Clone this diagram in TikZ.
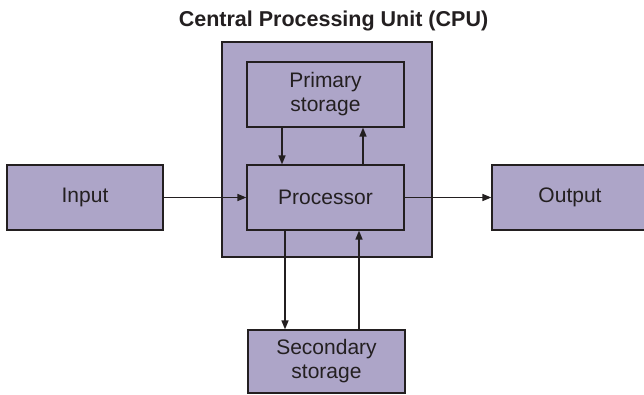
\documentclass[tikz,border=0pt]{standalone}
\usepackage{fontspec}
\setmainfont{Liberation Sans}
\usetikzlibrary{arrows.meta}
\definecolor{boxfill}{RGB}{173,165,200}
\definecolor{ink}{RGB}{35,31,32}
\tikzset{
  blk/.style={draw=ink, line width=1.2pt, fill=boxfill, rectangle, inner sep=0pt,
    align=center, font=\fontsize{21}{24}\selectfont, text=ink},
  conn/.style={draw=ink, line width=1.5pt, -{Triangle[length=9pt,width=7pt]}}
}
\begin{document}
\begin{tikzpicture}[x=1pt,y=-1pt]
\useasboundingbox (0,0) rectangle (644,395);
\node[blk, minimum width=210pt, minimum height=215pt] (cpu) at (327,149.5) {};
\node[font=\bfseries\fontsize{21.5}{24}\selectfont, text=ink, anchor=base] (title) at (333.5,27) {Central Processing Unit (CPU)};
\node[blk, minimum width=157pt, minimum height=65pt] (prim) at (325.5,94.5) {Primary\\storage};
\node[blk, minimum width=157pt, minimum height=65pt] (proc) at (325.5,197.5) {Processor};
\node[blk, minimum width=156pt, minimum height=65pt] (input) at (85,197.5) {Input};
\node[blk, minimum width=156pt, minimum height=65pt] (output) at (570,197.5) {Output};
\node[blk, minimum width=157pt, minimum height=63pt] (sec) at (326.5,361.5) {Secondary\\storage};
\draw[conn] (input.east) -- (proc.west);
\draw[conn] (proc.east) -- (output.west);
\draw[conn] (prim.south -| 282,0) -- (proc.north -| 282,0);
\draw[conn] (proc.north -| 363,0) -- (prim.south -| 363,0);
\draw[conn] (proc.south -| 285,0) -- (sec.north -| 285,0);
\draw[conn] (sec.north -| 359,0) -- (proc.south -| 359,0);
\end{tikzpicture}
\end{document}
